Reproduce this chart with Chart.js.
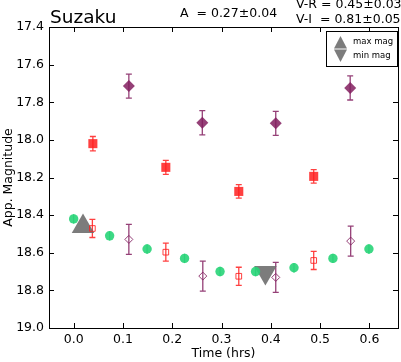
<!DOCTYPE html>
<html>
<head>
<meta charset="utf-8">
<script src="https://cdn.jsdelivr.net/npm/chart.js@4.4.0/dist/chart.umd.min.js"></script>
<style>
html,body{margin:0;padding:0;background:#fff;}
#wrap{width:401px;height:362px;position:relative;}
</style>
</head>
<body>
<div id="wrap"><canvas id="c" width="401" height="362"></canvas></div>
<script>
// ---- data ----
const xTicks = [0.0, 0.1, 0.2, 0.3, 0.4, 0.5, 0.6];
const yTicks = [17.4, 17.6, 17.8, 18.0, 18.2, 18.4, 18.6, 18.8, 19.0];

const greenX = [0.000, 0.073, 0.149, 0.225, 0.297, 0.369, 0.447, 0.526, 0.599];
const greenY = [18.42, 18.51, 18.58, 18.63, 18.70, 18.70, 18.68, 18.63, 18.58];
const greenErr = [0.025, 0.025, 0.025, 0.025, 0.025, 0.025, 0.025, 0.025, 0.025];

const redX = [0.039, 0.187, 0.335, 0.487];
const redY = [18.02, 18.146, 18.274, 18.194];
const redErr = [0.038, 0.037, 0.036, 0.036];

const purpleX = [0.112, 0.261, 0.410, 0.561];
const purpleY = [17.714, 17.909, 17.912, 17.724];
const purpleErr = [0.064, 0.064, 0.064, 0.064];

const redOpenX = [0.038, 0.187, 0.335, 0.487];
const redOpenY = [18.471, 18.597, 18.725, 18.641];
const redOpenErr = [0.048, 0.048, 0.048, 0.048];

const purpleOpenX = [0.112, 0.262, 0.410, 0.562];
const purpleOpenY = [18.529, 18.724, 18.731, 18.538];
const purpleOpenErr = [0.080, 0.080, 0.080, 0.080];

const maxMag = {x: 0.019, y: 18.46};
const minMag = {x: 0.389, y: 18.705};

const titleText = "Suzaku";
const ampText = "A  = 0.27\u00b10.04";
const vrText = "V-R = 0.45\u00b10.03";
const viText = "V-I  = 0.81\u00b10.05";
const legendLabels = ["max mag", "min mag"];

// ---- styles ----
const GREEN = 'rgba(40,212,120,0.9)';
const RED = 'rgba(255,30,30,0.85)';
const PURPLE = 'rgba(130,30,95,0.85)';
const GREY = 'rgba(110,110,110,0.9)';
const FONT = '"DejaVu Sans", sans-serif';

function pts(xs, ys){ return xs.map((x,i)=>({x:x, y:ys[i]})); }

const datasets = [
  {label:'V', data: pts(greenX, greenY), err: greenErr, errColor: GREEN, cap: 0,
   pointStyle:'circle', pointRadius:4.7, backgroundColor:GREEN, borderColor:GREEN, borderWidth:0},
  {label:'Rf', data: pts(redX, redY), err: redErr, errColor: RED, cap: 3,
   pointStyle:'rect', pointRadius:6.4, backgroundColor:RED, borderColor:RED, borderWidth:0},
  {label:'If', data: pts(purpleX, purpleY), err: purpleErr, errColor: PURPLE, cap: 3,
   pointStyle:'rectRot', pointRadius:6, backgroundColor:PURPLE, borderColor:PURPLE, borderWidth:0},
  {label:'Ro', data: pts(redOpenX, redOpenY), err: redOpenErr, errColor: RED, cap: 3,
   pointStyle:'rect', pointRadius:4, backgroundColor:'rgba(255,255,255,0)', borderColor:RED, borderWidth:1},
  {label:'Io', data: pts(purpleOpenX, purpleOpenY), err: purpleOpenErr, errColor: PURPLE, cap: 3,
   pointStyle:'rectRot', pointRadius:4, backgroundColor:'rgba(255,255,255,0)', borderColor:PURPLE, borderWidth:1},
  {label:'max', data:[maxMag], pointStyle:'triangle', pointRadius:13, rotation:0,
   backgroundColor:GREY, borderColor:GREY, borderWidth:0},
  {label:'min', data:[minMag], pointStyle:'triangle', pointRadius:13, rotation:180,
   backgroundColor:GREY, borderColor:GREY, borderWidth:0}
];

const errorBarPlugin = {
  id:'errorBars',
  beforeDatasetsDraw(chart){
    const ctx = chart.ctx, xs = chart.scales.x, ys = chart.scales.y;
    ctx.save();
    chart.data.datasets.forEach(ds=>{
      if(!ds.err) return;
      ctx.strokeStyle = ds.errColor; ctx.lineWidth = 1.3;
      ds.data.forEach((p,i)=>{
        const px = xs.getPixelForValue(p.x);
        const y1 = ys.getPixelForValue(p.y - ds.err[i]);
        const y2 = ys.getPixelForValue(p.y + ds.err[i]);
        ctx.beginPath();
        ctx.moveTo(px, y1); ctx.lineTo(px, y2);
        if(ds.cap){
          ctx.moveTo(px-ds.cap, y1); ctx.lineTo(px+ds.cap, y1);
          ctx.moveTo(px-ds.cap, y2); ctx.lineTo(px+ds.cap, y2);
        }
        ctx.stroke();
      });
    });
    ctx.restore();
  }
};

const framePlugin = {
  id:'frame',
  afterDraw(chart){
    const ctx = chart.ctx, a = chart.chartArea, xs = chart.scales.x, ys = chart.scales.y;
    ctx.save();
    ctx.strokeStyle = '#000'; ctx.lineWidth = 1;
    ctx.strokeRect(Math.round(a.left)+0.5, Math.round(a.top)+0.5, Math.round(a.right-a.left), Math.round(a.bottom-a.top));
    ctx.beginPath();
    xTicks.forEach(v=>{
      const px = Math.round(xs.getPixelForValue(v))+0.5;
      ctx.moveTo(px, a.bottom); ctx.lineTo(px, a.bottom-5);
      ctx.moveTo(px, a.top); ctx.lineTo(px, a.top+5);
    });
    yTicks.forEach(v=>{
      const py = Math.round(ys.getPixelForValue(v))+0.5;
      ctx.moveTo(a.left, py); ctx.lineTo(a.left+5, py);
      ctx.moveTo(a.right, py); ctx.lineTo(a.right-5, py);
    });
    ctx.stroke();

    // axis titles
    ctx.fillStyle = '#000';
    ctx.font = '12.5px ' + FONT;
    ctx.textAlign = 'center'; ctx.textBaseline = 'alphabetic';
    ctx.fillText('Time (hrs)', (a.left+a.right)/2, 357);
    ctx.save();
    ctx.translate(12, (a.top+a.bottom)/2);
    ctx.rotate(-Math.PI/2);
    ctx.fillText('App. Magnitude', 0, 0);
    ctx.restore();

    // titles
    ctx.textAlign = 'left';
    ctx.font = '18.5px ' + FONT;
    ctx.fillText(titleText, 50, 23);
    ctx.font = '12.5px ' + FONT;
    ctx.fillText(ampText, 180, 17);
    ctx.fillText(vrText, 296, 8);
    ctx.fillText(viText, 296, 23);

    // legend
    const bx = 326.5, by = 31.5, bw = 71, bh = 35;
    ctx.fillStyle = '#fff';
    ctx.fillRect(bx, by, bw, bh);
    ctx.strokeStyle = '#000'; ctx.lineWidth = 1;
    ctx.strokeRect(bx, by, bw, bh);
    ctx.fillStyle = GREY;
    const cx = 340.5;
    ctx.beginPath();
    ctx.moveTo(cx, 36); ctx.lineTo(cx+6.5, 48.5); ctx.lineTo(cx-6.5, 48.5); ctx.closePath(); ctx.fill();
    ctx.beginPath();
    ctx.moveTo(cx-6.5, 49.5); ctx.lineTo(cx+6.5, 49.5); ctx.lineTo(cx, 62); ctx.closePath(); ctx.fill();
    ctx.fillStyle = '#000';
    ctx.font = '8.5px ' + FONT;
    ctx.textBaseline = 'middle';
    ctx.fillText(legendLabels[0], 353, 42);
    ctx.fillText(legendLabels[1], 353, 56);
    ctx.restore();
  }
};

new Chart(document.getElementById('c'), {
  type:'scatter',
  data:{datasets: datasets},
  options:{
    responsive:false, animation:false, devicePixelRatio:1,
    layout:{autoPadding:false, padding:{top:27, right:3, left:0, bottom:0}},
    plugins:{legend:{display:false}, title:{display:false}, tooltip:{enabled:false}},
    scales:{
      x:{type:'linear', min:-0.05, max:0.658,
         afterBuildTicks(s){ s.ticks = xTicks.map(v=>({value:v})); },
         afterFit(s){ s.height = 34; s.paddingLeft = 0; s.paddingRight = 0; },
         grid:{display:false, drawTicks:false}, border:{display:false},
         ticks:{padding:4, color:'#000', font:{family:FONT, size:12.5}, maxRotation:0, autoSkip:false,
                callback:(v)=>Number(v).toFixed(1)}},
      y:{type:'linear', min:17.4, max:19.0, reverse:true,
         afterBuildTicks(s){ s.ticks = yTicks.map(v=>({value:v})); },
         afterFit(s){ s.width = 49; s.paddingTop = 0; s.paddingBottom = 0; },
         grid:{display:false, drawTicks:false}, border:{display:false},
         ticks:{padding:5, color:'#000', font:{family:FONT, size:12.5}, autoSkip:false,
                callback:(v)=>Number(v).toFixed(1)}}
    }
  },
  plugins:[errorBarPlugin, framePlugin]
});
</script>
</body>
</html>
